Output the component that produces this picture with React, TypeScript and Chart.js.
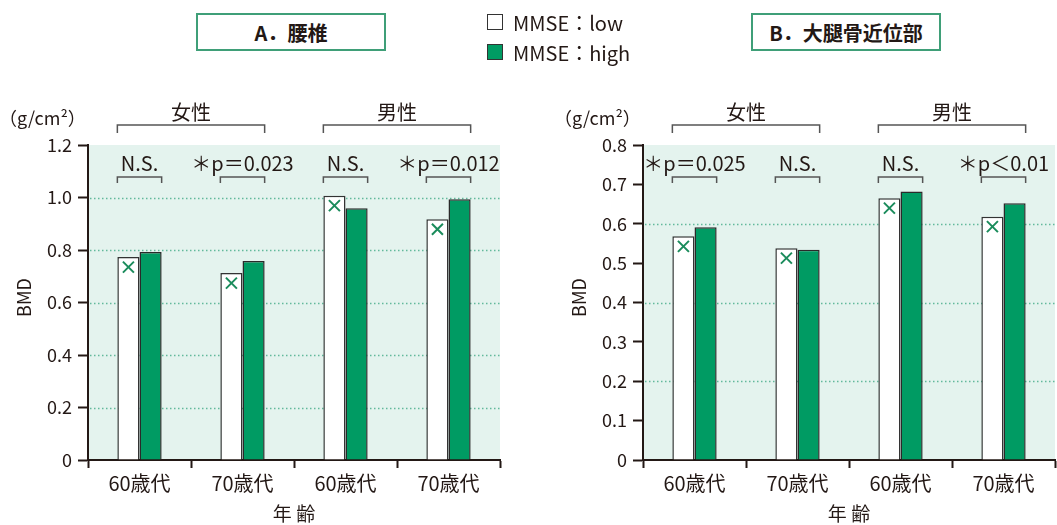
import React, { useEffect, useRef } from "react";
import { Chart, registerables } from "chart.js";

Chart.register(...registerables);

// ---- data ----
const categories = ["60歳代", "70歳代", "60歳代", "70歳代"];
const sexGroups = ["女性", "男性"];
const seriesNames = ["MMSE：low", "MMSE：high"];

const lumbarLow = [0.773, 0.712, 1.007, 0.917];
const lumbarHigh = [0.792, 0.758, 0.959, 0.993];
const lumbarSig = ["N.S.", "＊p＝0.023", "N.S.", "＊p＝0.012"];
const lumbarMax = 1.2;
const lumbarStep = 0.2;
const lumbarGrid = [0.2, 0.4, 0.6, 0.8, 1.0];

const femurLow = [0.568, 0.538, 0.665, 0.618];
const femurHigh = [0.591, 0.534, 0.682, 0.652];
const femurSig = ["＊p＝0.025", "N.S.", "N.S.", "＊p＜0.01"];
const femurMax = 0.8;
const femurStep = 0.1;
const femurGrid = [0.2, 0.4, 0.6];

const titles = ["A．腰椎", "B．大腿骨近位部"];
const unitLabel = "（g/cm²）";
const yTitle = "BMD";
const xTitle = "年 齢";

// ---- style ----
const FONT = "'Noto Sans CJK JP', 'Noto Sans', sans-serif";
const TEXT = "#231815";
const GREEN = "#009b63";
const BG = "#e4f3ee";
const GRID = "#62b99b";
const AXIS = "#231815";

function annotPlugin(sig: string[], gridVals: number[]) {
  return {
    id: "annot",
    beforeDraw(chart: any) {
      const { ctx, chartArea: a } = chart;
      ctx.save();
      ctx.fillStyle = BG;
      ctx.fillRect(a.left, a.top, a.right - a.left, a.bottom - a.top);
      ctx.restore();
    },
    beforeDatasetsDraw(chart: any) {
      const { ctx, chartArea: a } = chart;
      const ys = chart.scales.y;
      ctx.save();
      ctx.strokeStyle = GRID;
      ctx.lineWidth = 1.5;
      ctx.setLineDash([1.5, 2.5]);
      gridVals.forEach((v) => {
        const y = Math.round(ys.getPixelForValue(v)) + 0.5;
        ctx.beginPath();
        ctx.moveTo(a.left + 2, y);
        ctx.lineTo(a.right, y);
        ctx.stroke();
      });
      ctx.restore();
    },
    afterDraw(chart: any) {
      const { ctx, chartArea: a } = chart;
      const low = chart.getDatasetMeta(0).data;
      const high = chart.getDatasetMeta(1).data;
      ctx.save();
      // cross markers in white bars
      ctx.strokeStyle = "#1b8c5c";
      ctx.lineWidth = 2;
      low.forEach((b: any) => {
        const cx = b.x;
        const cy = b.y + 10;
        const r = 5.5;
        ctx.beginPath();
        ctx.moveTo(cx - r, cy - r);
        ctx.lineTo(cx + r, cy + r);
        ctx.moveTo(cx + r, cy - r);
        ctx.lineTo(cx - r, cy + r);
        ctx.stroke();
      });
      // pair brackets and significance labels
      ctx.strokeStyle = "#555";
      ctx.lineWidth = 1.5;
      ctx.fillStyle = TEXT;
      ctx.textAlign = "center";
      ctx.textBaseline = "middle";
      ctx.font = `20px ${FONT}`;
      const drawBracket = (l: number, r: number, y: number, h: number) => {
        ctx.beginPath();
        ctx.moveTo(l, y + h);
        ctx.lineTo(l, y);
        ctx.lineTo(r, y);
        ctx.lineTo(r, y + h);
        ctx.stroke();
      };
      low.forEach((b: any, i: number) => {
        const h = high[i] as any;
        const l = b.x - b.width / 2;
        const r = h.x + h.width / 2;
        drawBracket(l, r, a.top + 32, 6);
        ctx.fillText(sig[i], (l + r) / 2, a.top + 18);
      });
      // sex group brackets
      sexGroups.forEach((g, gi) => {
        const b0 = low[gi * 2] as any;
        const b1 = high[gi * 2 + 1] as any;
        const l = b0.x - b0.width / 2;
        const r = b1.x + b1.width / 2;
        drawBracket(l, r, a.top - 20, 8);
        ctx.fillText(g, (l + r) / 2, a.top - 33);
      });
      // unit
      ctx.font = `18px ${FONT}`;
      ctx.textAlign = "left";
      ctx.fillText(unitLabel, a.left - 89, a.top - 27);
      // y title
      ctx.save();
      ctx.translate(a.left - 64, (a.top + a.bottom) / 2 - 5);
      ctx.rotate(-Math.PI / 2);
      ctx.textAlign = "center";
      ctx.fillText(yTitle, 0, 0);
      ctx.restore();
      // x title
      ctx.textAlign = "center";
      ctx.font = `19px ${FONT}`;
      ctx.fillText(xTitle, (a.left + a.right) / 2, 514);
      ctx.restore();
    },
  };
}

function makeConfig(
  low: number[],
  high: number[],
  sig: string[],
  max: number,
  step: number,
  gridVals: number[],
  yWidth: number,
  rightPad: number
): any {
  return {
    type: "bar",
    data: {
      labels: categories,
      datasets: [
        {
          label: seriesNames[0],
          data: low,
          backgroundColor: "#ffffff",
          borderColor: "#333333",
          borderWidth: 1.5,
          borderSkipped: "bottom",
        },
        {
          label: seriesNames[1],
          data: high,
          backgroundColor: GREEN,
          borderColor: "#2a2a2a",
          borderWidth: 1.5,
          borderSkipped: "bottom",
        },
      ],
    },
    options: {
      responsive: false,
      animation: false,
      devicePixelRatio: 1,
      layout: { padding: { top: 145, right: rightPad, left: 0, bottom: 0 } },
      datasets: { bar: { categoryPercentage: 0.43, barPercentage: 1.0 } },
      plugins: { legend: { display: false }, tooltip: { enabled: false } },
      scales: {
        x: {
          offset: true,
          grid: {
            display: true,
            offset: true,
            drawOnChartArea: false,
            drawTicks: true,
            tickLength: 8,
            tickColor: AXIS,
            tickWidth: 2,
          },
          border: { display: true, color: AXIS, width: 2 },
          ticks: {
            color: TEXT,
            font: { family: FONT, size: 20 },
            padding: 3,
            maxRotation: 0,
            autoSkip: false,
          },
          afterFit: (s: any) => {
            s.height = 65;
          },
        },
        y: {
          min: 0,
          max: max,
          grid: {
            display: true,
            drawOnChartArea: false,
            drawTicks: true,
            tickLength: 10,
            tickColor: AXIS,
            tickWidth: 2,
          },
          border: { display: true, color: AXIS, width: 2 },
          ticks: {
            stepSize: step,
            color: TEXT,
            font: { family: FONT, size: 18 },
            padding: 6,
            callback: (v: any) => (Number(v) === 0 ? "0" : Number(v).toFixed(1)),
          },
          afterFit: (s: any) => {
            s.width = yWidth;
          },
        },
      },
    },
    plugins: [annotPlugin(sig, gridVals)],
  };
}

function ChartCanvas(props: {
  left: number;
  width: number;
  cfg: () => any;
}) {
  const ref = useRef<HTMLCanvasElement | null>(null);
  useEffect(() => {
    if (!ref.current) return;
    const c = new Chart(ref.current, props.cfg());
    return () => c.destroy();
  }, []);
  return (
    <canvas
      ref={ref}
      width={props.width}
      height={525}
      style={{ position: "absolute", left: props.left, top: 0, width: props.width, height: 525 }}
    />
  );
}

const titleBox = (left: number): React.CSSProperties => ({
  position: "absolute",
  left,
  top: 13,
  width: 190,
  height: 38,
  boxSizing: "border-box",
  border: "2px solid #3f9f78",
  display: "flex",
  alignItems: "center",
  justifyContent: "center",
  fontFamily: FONT,
  fontWeight: 700,
  fontSize: 20,
  color: TEXT,
  background: "#fff",
});

export default function App() {
  return (
    <div
      style={{
        position: "fixed",
        left: 0,
        top: 0,
        width: 1057,
        height: 525,
        background: "#ffffff",
        overflow: "hidden",
      }}
    >
      <ChartCanvas
        left={0}
        width={528}
        cfg={() => makeConfig(lumbarLow, lumbarHigh, lumbarSig, lumbarMax, lumbarStep, lumbarGrid, 88, 28)}
      />
      <ChartCanvas
        left={528}
        width={529}
        cfg={() => makeConfig(femurLow, femurHigh, femurSig, femurMax, femurStep, femurGrid, 115, 2)}
      />
      <div style={titleBox(196)}>{titles[0]}</div>
      <div style={titleBox(751)}>{titles[1]}</div>
      {seriesNames.map((n, i) => (
        <div
          key={n}
          style={{
            position: "absolute",
            left: 487,
            top: 12 + i * 30,
            height: 20,
            display: "flex",
            alignItems: "center",
            fontFamily: FONT,
            fontSize: 20,
            color: TEXT,
            whiteSpace: "nowrap",
          }}
        >
          <span
            style={{
              display: "inline-block",
              width: 16,
              height: 16,
              boxSizing: "border-box",
              border: "1.5px solid #333",
              background: i === 0 ? "#fff" : GREEN,
              marginRight: 10,
            }}
          />
          {n}
        </div>
      ))}
    </div>
  );
}
